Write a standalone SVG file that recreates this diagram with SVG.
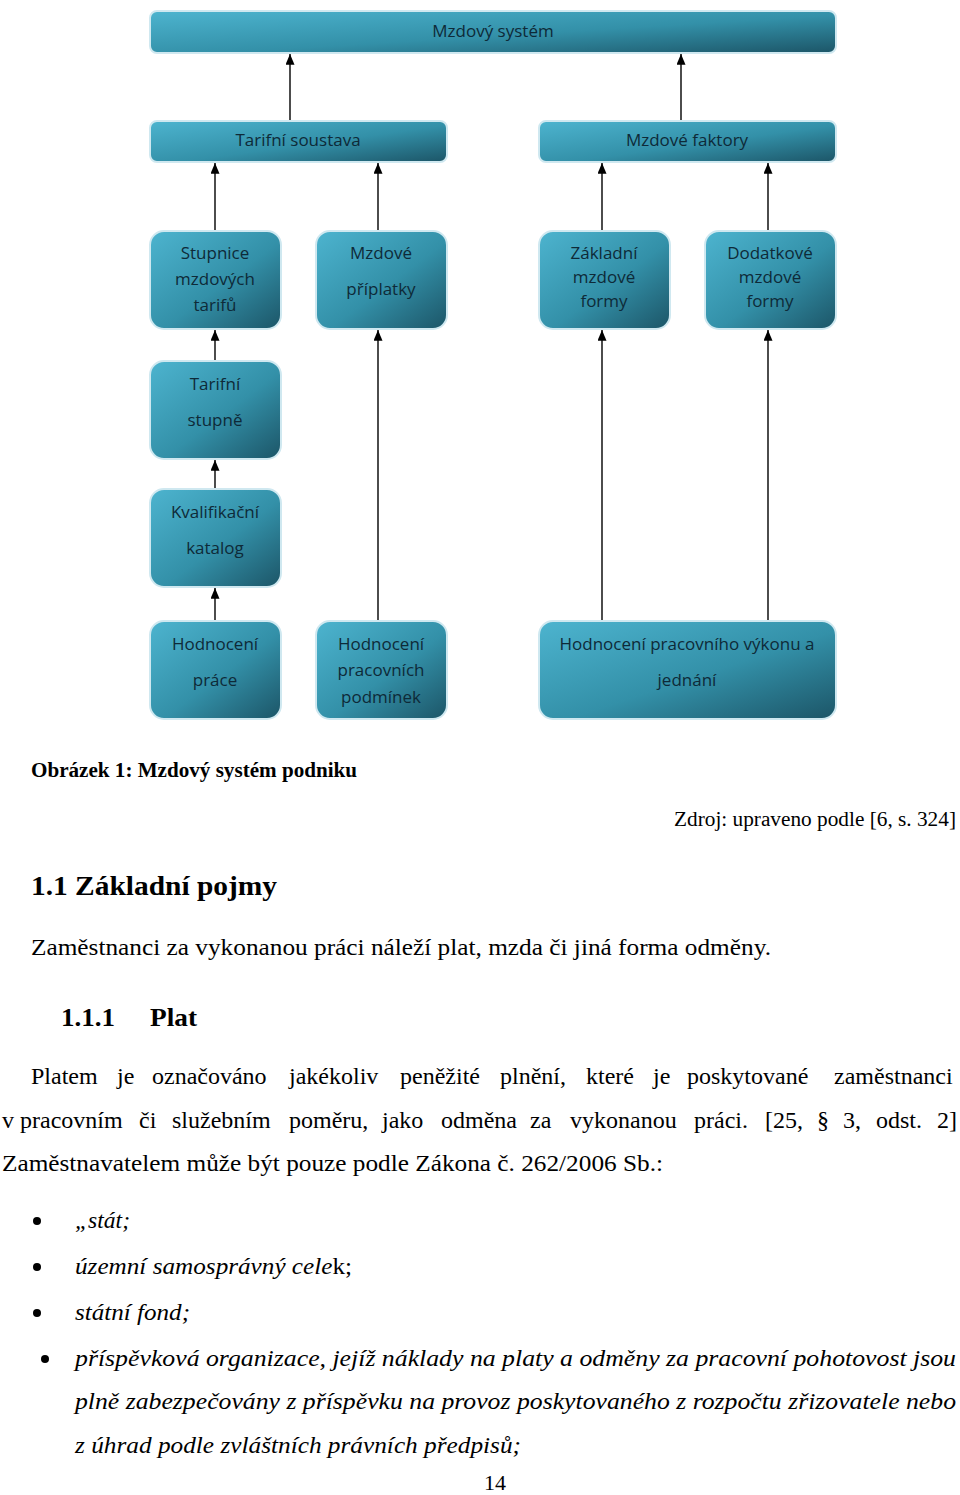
<svg xmlns="http://www.w3.org/2000/svg" width="960" height="1495" viewBox="0 0 960 1495">
<defs>
<linearGradient id="g" x1="0" y1="0" x2="1" y2="1">
<stop offset="0" stop-color="#4db4cf"/>
<stop offset="0.55" stop-color="#3390a8"/>
<stop offset="1" stop-color="#1c5567"/>
</linearGradient>
<marker id="ah" viewBox="0 0 12 10" refX="12" refY="5" markerWidth="11" markerHeight="9" markerUnits="userSpaceOnUse" orient="auto">
<path d="M0,0 L12,5 L0,10 Z" fill="#000"/>
</marker>
</defs>
<style>
.box{fill:url(#g);stroke:#cfe8f0;stroke-width:2}
.bt{font-family:"Open Sans","Noto Sans",sans-serif;font-size:17px;fill:#0e2a38;text-anchor:middle}
.con line{stroke:#000;stroke-width:1.4}
.t{font-family:"Liberation Serif","Times New Roman",serif;fill:#000}
.it{font-style:italic}
</style>
<rect width="960" height="1495" fill="#fff"/>

<g class="con">
<line x1="290" y1="121" x2="290" y2="54" marker-end="url(#ah)"/>
<line x1="681" y1="121" x2="681" y2="54" marker-end="url(#ah)"/>
<line x1="215" y1="231" x2="215" y2="163" marker-end="url(#ah)"/>
<line x1="378" y1="231" x2="378" y2="163" marker-end="url(#ah)"/>
<line x1="602" y1="231" x2="602" y2="163" marker-end="url(#ah)"/>
<line x1="768" y1="231" x2="768" y2="163" marker-end="url(#ah)"/>
<line x1="215" y1="361" x2="215" y2="330" marker-end="url(#ah)"/>
<line x1="215" y1="489" x2="215" y2="460" marker-end="url(#ah)"/>
<line x1="215" y1="621" x2="215" y2="588" marker-end="url(#ah)"/>
<line x1="378" y1="621" x2="378" y2="330" marker-end="url(#ah)"/>
<line x1="602" y1="621" x2="602" y2="330" marker-end="url(#ah)"/>
<line x1="768" y1="621" x2="768" y2="330" marker-end="url(#ah)"/>
</g>

<g id="mzdovy-system"><rect class="box" x="150" y="11" width="686" height="42" rx="7"/><text class="bt" x="493" y="37">Mzdový systém</text></g>
<g id="tarifni-soustava"><rect class="box" x="150" y="121" width="297" height="41" rx="7"/><text class="bt" x="298" y="146">Tarifní soustava</text></g>
<g id="mzdove-faktory"><rect class="box" x="539" y="121" width="297" height="41" rx="7"/><text class="bt" x="687" y="146">Mzdové faktory</text></g>

<g id="stupnice"><rect class="box" x="150" y="231" width="131" height="98" rx="14"/><text class="bt" x="215" y="259">Stupnice</text><text class="bt" x="215" y="285">mzdových</text><text class="bt" x="215" y="311">tarifů</text></g>
<g id="priplatky"><rect class="box" x="316" y="231" width="131" height="98" rx="14"/><text class="bt" x="381" y="259">Mzdové</text><text class="bt" x="381" y="295">příplatky</text></g>
<g id="zakladni"><rect class="box" x="539" y="231" width="131" height="98" rx="14"/><text class="bt" x="604" y="259">Základní</text><text class="bt" x="604" y="283">mzdové</text><text class="bt" x="604" y="307">formy</text></g>
<g id="dodatkove"><rect class="box" x="705" y="231" width="131" height="98" rx="14"/><text class="bt" x="770" y="259">Dodatkové</text><text class="bt" x="770" y="283">mzdové</text><text class="bt" x="770" y="307">formy</text></g>

<g id="tarifni-stupne"><rect class="box" x="150" y="361" width="131" height="98" rx="14"/><text class="bt" x="215" y="390">Tarifní</text><text class="bt" x="215" y="426">stupně</text></g>
<g id="kvalifikacni"><rect class="box" x="150" y="489" width="131" height="98" rx="14"/><text class="bt" x="215" y="518">Kvalifikační</text><text class="bt" x="215" y="554">katalog</text></g>

<g id="hodnoceni-prace"><rect class="box" x="150" y="621" width="131" height="98" rx="14"/><text class="bt" x="215" y="650">Hodnocení</text><text class="bt" x="215" y="686">práce</text></g>
<g id="hodnoceni-podminek"><rect class="box" x="316" y="621" width="131" height="98" rx="14"/><text class="bt" x="381" y="650">Hodnocení</text><text class="bt" x="381" y="676">pracovních</text><text class="bt" x="381" y="703">podmínek</text></g>
<g id="hodnoceni-vykonu"><rect class="box" x="539" y="621" width="297" height="98" rx="14"/><text class="bt" x="687" y="650">Hodnocení pracovního výkonu a</text><text class="bt" x="687" y="686">jednání</text></g>

<g id="text">
<text class="t" x="31" y="777" font-size="20" font-weight="bold" textLength="326" lengthAdjust="spacingAndGlyphs">Obrázek 1: Mzdový systém podniku</text>
<text class="t" x="674" y="826" font-size="20" textLength="282" lengthAdjust="spacingAndGlyphs">Zdroj: upraveno podle [6, s. 324]</text>
<text class="t" x="31" y="895" font-size="28" font-weight="bold" textLength="246" lengthAdjust="spacingAndGlyphs">1.1 Základní pojmy</text>
<text class="t" x="31" y="955" font-size="23" textLength="740" lengthAdjust="spacingAndGlyphs">Zaměstnanci za vykonanou práci náleží plat, mzda či jiná forma odměny.</text>
<text class="t" x="61" y="1026" font-size="25" font-weight="bold" textLength="54" lengthAdjust="spacingAndGlyphs">1.1.1</text>
<text class="t" x="150" y="1026" font-size="25" font-weight="bold" textLength="47" lengthAdjust="spacingAndGlyphs">Plat</text>
<text class="t" y="1084" font-size="24"><tspan x="31">Platem</tspan><tspan x="117">je</tspan><tspan x="152">označováno</tspan><tspan x="289">jakékoliv</tspan><tspan x="400">peněžité</tspan><tspan x="500">plnění,</tspan><tspan x="586">které</tspan><tspan x="653">je</tspan><tspan x="687">poskytované</tspan><tspan x="834">zaměstnanci</tspan></text>
<text class="t" y="1128" font-size="24"><tspan x="2">v</tspan><tspan x="20">pracovním</tspan><tspan x="139">či</tspan><tspan x="172">služebním</tspan><tspan x="289">poměru,</tspan><tspan x="382">jako</tspan><tspan x="441">odměna</tspan><tspan x="530">za</tspan><tspan x="570">vykonanou</tspan><tspan x="694">práci.</tspan><tspan x="765">[25,</tspan><tspan x="817">§</tspan><tspan x="843">3,</tspan><tspan x="876">odst.</tspan><tspan x="937">2]</tspan></text>
<text class="t" x="2" y="1171" font-size="24" textLength="661" lengthAdjust="spacingAndGlyphs">Zaměstnavatelem může být pouze podle Zákona č. 262/2006 Sb.:</text>
<circle cx="37" cy="1221" r="4"/>
<circle cx="37" cy="1267" r="4"/>
<circle cx="37" cy="1313" r="4"/>
<circle cx="45" cy="1359" r="4"/>
<text class="t it" x="75" y="1228" font-size="23" textLength="55" lengthAdjust="spacingAndGlyphs">„stát;</text>
<text class="t" x="75" y="1274" font-size="23" textLength="277" lengthAdjust="spacingAndGlyphs"><tspan class="it">územní samosprávný cele</tspan>k;</text>
<text class="t it" x="75" y="1320" font-size="23" textLength="115" lengthAdjust="spacingAndGlyphs">státní fond;</text>
<text class="t it" x="75" y="1366" font-size="23" textLength="881" lengthAdjust="spacingAndGlyphs">příspěvková organizace, jejíž náklady na platy a odměny za pracovní pohotovost jsou</text>
<text class="t it" x="75" y="1409" font-size="23" textLength="881" lengthAdjust="spacingAndGlyphs">plně zabezpečovány z příspěvku na provoz poskytovaného z rozpočtu zřizovatele nebo</text>
<text class="t it" x="75" y="1453" font-size="23" textLength="446" lengthAdjust="spacingAndGlyphs">z úhrad podle zvláštních právních předpisů;</text>
<text class="t" x="495" y="1490" font-size="22" text-anchor="middle">14</text>
</g>
</svg>
